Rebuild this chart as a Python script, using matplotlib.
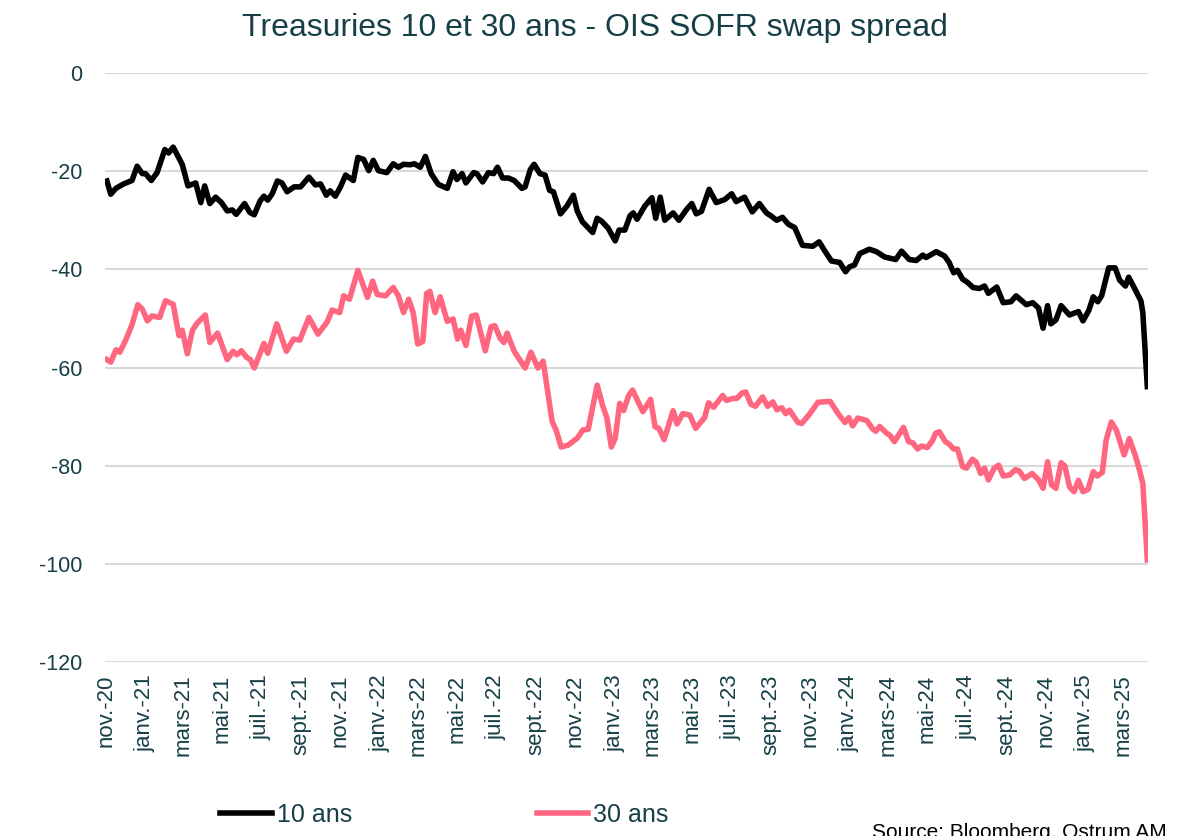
import matplotlib
matplotlib.use("Agg")
import matplotlib.pyplot as plt
import pandas as pd

# data: days since 1 Nov 2020 and spread in bp
days_10 = [2, 8, 16, 28, 41, 49, 57, 62, 71, 80, 92, 98, 105, 119, 128, 140, 148, 154, 162, 171,
           180, 189, 197, 203, 216, 224, 231, 240, 246, 252, 259, 267, 274, 282, 293, 303, 316, 326,
           334, 343, 349, 357, 365, 373, 385, 392, 401, 409,
           416, 424, 437, 447, 455, 463, 473, 480, 489, 497, 506, 517, 531, 540, 546, 554, 560, 572,
           577, 586, 595, 603, 609, 617, 626, 635, 647, 652, 660, 666, 675, 683, 690, 696, 707, 717,
           727, 733, 741, 757, 764, 771, 781, 792, 798, 807, 815,
           820, 826, 838, 849, 855, 862, 869, 882, 891, 903, 911, 918, 926, 938, 949, 962, 973, 980,
           993, 1005, 1016, 1027, 1035, 1043, 1052, 1061, 1071, 1083, 1099, 1109, 1117, 1128, 1141,
           1150, 1156, 1164, 1172, 1187, 1198, 1211,
           1228, 1237, 1249, 1260, 1270, 1275, 1291, 1304, 1311, 1318, 1324, 1332, 1340, 1348, 1358,
           1366, 1372, 1385, 1395, 1407, 1415, 1431, 1441, 1450, 1457, 1464, 1469, 1477, 1485, 1498,
           1512, 1519, 1528, 1535, 1542, 1548, 1559, 1569, 1576, 1585, 1590, 1600, 1609, 1612, 1619]
spread_10 = [-22.0, -24.7, -23.5, -22.6, -21.9, -19.0, -20.5, -20.5, -21.9, -20.3, -15.6, -16.3, -15.1,
             -18.6, -23.0, -22.4, -26.4, -23.0, -26.6, -25.3, -26.4, -28.1, -27.9, -28.8, -26.6, -28.4,
             -28.9, -26.1, -25.1, -25.9, -24.6, -22.0, -22.4, -24.2, -23.2, -23.2, -21.2, -22.8, -22.6,
             -24.9, -24.0, -25.1, -23.2, -20.8, -21.9, -17.2, -17.6, -19.9,
             -17.8, -19.9, -20.3, -18.5, -19.2, -18.6, -18.7, -18.5, -19.2, -17.0, -20.5, -22.7, -23.5,
             -20.1, -21.7, -20.5, -22.4, -20.3, -20.5, -22.2, -20.3, -20.5, -19.2, -21.4, -21.4, -21.9,
             -23.5, -23.2, -19.7, -18.6, -20.5, -20.8, -23.9, -24.2, -28.7, -27.1, -24.9, -28.1, -30.3,
             -32.5, -29.6, -30.2, -31.6, -34.2, -32.0, -32.0, -29.1,
             -28.5, -29.8, -27.1, -25.4, -29.6, -25.3, -30.0, -28.5, -30.0, -27.8, -26.6, -28.7, -28.2,
             -23.7, -26.4, -25.8, -24.6, -26.2, -25.3, -28.3, -26.6, -28.5, -29.2, -30.0, -29.4, -30.8,
             -31.5, -35.1, -35.3, -34.4, -36.1, -38.3, -38.6, -40.5, -39.5, -39.1, -36.8, -35.9, -36.4,
             -37.5,
             -38.0, -36.3, -38.0, -38.2, -37.1, -37.6, -36.4, -37.3, -38.6, -40.7, -40.2, -42.0, -42.7,
             -43.7, -43.9, -43.4, -44.9, -43.6, -46.8, -46.6, -45.4, -47.2, -46.8, -47.9, -52.0, -47.4,
             -51.1, -50.3, -47.4, -49.3, -48.6, -50.5, -48.4, -45.6, -46.6, -45.4, -39.7, -39.7, -42.2,
             -43.4, -41.6, -44.1, -46.4, -48.8, -63.9]

days_30 = [2, 8, 16, 22, 31, 41, 50, 57, 65, 72, 84, 93, 105, 114, 119, 127, 135, 142, 155, 162, 174,
           189, 198, 204, 211, 219, 225, 231, 246, 252, 266, 281, 292, 302, 316, 330, 344, 352, 364,
           370, 379, 392,
           407, 415, 422, 435, 447, 455, 463, 471, 478, 485, 493, 499, 504, 512, 520, 531, 540, 547,
           552, 560, 569, 576, 590, 599, 605, 613, 619, 624, 635, 652, 661, 672, 680,
           694, 700, 708, 719, 733, 742, 750, 764, 773, 779, 786, 792, 799, 805, 813, 819, 835, 847,
           854, 860, 868, 882, 888, 897, 908, 917, 931, 937, 945, 959, 965, 975, 981, 989, 995, 1003,
           1010, 1021, 1029, 1037, 1043, 1051, 1057, 1063, 1076,
           1082, 1094, 1107, 1126, 1139, 1149, 1155, 1161, 1169, 1183, 1192, 1197,
           1203, 1214, 1219, 1226, 1240, 1248, 1254, 1262, 1268, 1277, 1285, 1290, 1296, 1305, 1311,
           1318, 1324, 1332, 1338, 1347, 1353, 1360, 1366, 1372, 1381, 1388, 1395, 1405, 1414, 1420,
           1428, 1440, 1450, 1457, 1464, 1470, 1477, 1485, 1491, 1498, 1505, 1512, 1519, 1527, 1535,
           1541, 1549, 1555, 1563, 1571, 1583, 1591, 1600, 1606, 1612, 1619]
spread_30 = [-58.4, -58.9, -56.4, -56.9, -54.5, -51.3, -47.2, -48.1, -50.5, -49.5, -49.8, -46.4, -47.1,
             -53.5, -52.4, -57.2, -52.4, -51.0, -49.3, -54.9, -53.0, -58.4, -56.7, -57.4, -56.6, -57.9,
             -58.4, -60.1, -55.1, -57.1, -51.1, -56.7, -54.2, -54.4, -49.8, -53.2, -50.8, -48.3, -48.8,
             -45.4, -46.1, -40.2,
             -45.7, -42.4, -45.1, -45.4, -43.7, -45.4, -48.8, -46.1, -48.8, -55.2, -54.7, -44.9, -44.5,
             -48.8, -45.6, -50.6, -50.1, -54.2, -52.4, -55.5, -49.5, -49.3, -56.6, -51.7, -51.5, -54.0,
             -54.9, -53.0, -56.7, -60.1, -56.9, -60.1, -58.7,
             -71.0, -72.7, -76.2, -75.8, -74.4, -72.7, -72.6, -63.6, -68.0, -70.2, -76.2, -74.4, -67.3,
             -68.8, -65.7, -64.6, -69.0, -66.5, -72.1, -72.4, -74.7, -68.8, -71.5, -69.4, -69.7, -72.4,
             -70.2, -67.2, -68.1, -65.7, -66.7, -66.3, -66.3, -65.2, -65.0, -67.5, -67.9, -66.0, -67.9,
             -67.0, -68.6, -68.2, -69.4, -68.7, -71.2,
             -71.4, -69.5, -67.1, -66.9, -69.5, -71.2, -70.2, -71.9, -70.3, -70.8, -72.5, -73.0,
             -72.0, -73.4, -73.8, -75.1, -72.2, -75.1, -75.3, -76.6, -76.0, -76.3, -74.9, -73.4, -73.1,
             -75.1, -75.6, -76.6, -76.6, -80.2, -80.5, -78.7, -79.3, -81.6, -80.5, -82.9, -80.5, -79.9,
             -82.1, -81.9, -80.8, -81.1, -82.6, -81.6, -82.9, -84.6, -79.2, -83.9, -84.6, -79.4, -80.1,
             -84.3, -85.3, -83.0, -85.3, -84.8, -81.2, -82.1, -81.4, -74.8, -71.1, -72.8, -77.8, -74.5,
             -77.8, -80.5, -83.6, -99.2]

tick_dates = ['2020-11-01', '2021-01-01', '2021-03-01', '2021-05-01', '2021-07-01', '2021-09-01',
              '2021-11-01', '2022-01-01', '2022-03-01', '2022-05-01', '2022-07-01', '2022-09-01',
              '2022-11-01', '2023-01-01', '2023-03-01', '2023-05-01', '2023-07-01', '2023-09-01',
              '2023-11-01', '2024-01-01', '2024-03-01', '2024-05-01', '2024-07-01', '2024-09-01',
              '2024-11-01', '2025-01-01', '2025-03-01']
tick_labels = ['nov.-20', 'janv.-21', 'mars-21', 'mai-21', 'juil.-21', 'sept.-21', 'nov.-21',
               'janv.-22', 'mars-22', 'mai-22', 'juil.-22', 'sept.-22', 'nov.-22', 'janv.-23',
               'mars-23', 'mai-23', 'juil.-23', 'sept.-23', 'nov.-23', 'janv.-24', 'mars-24',
               'mai-24', 'juil.-24', 'sept.-24', 'nov.-24', 'janv.-25', 'mars-25']
y_ticks = [0, -20, -40, -60, -80, -100, -120]

start = pd.Timestamp('2020-11-01')
dates_10 = start + pd.to_timedelta(days_10, unit='D')
dates_30 = start + pd.to_timedelta(days_30, unit='D')

plt.rcParams['font.family'] = ['Liberation Sans', 'DejaVu Sans']
plt.rcParams['axes.unicode_minus'] = False
text_col = '#173f47'

fig = plt.figure(figsize=(11.78, 8.36), dpi=100)
ax = fig.add_axes([0.0891, 0.2081, 0.8854, 0.7046])

ax.plot(dates_10, spread_10, color='black', lw=4, label='10 ans', solid_joinstyle='round')
ax.plot(dates_30, spread_30, color='#ff667f', lw=4, label='30 ans', solid_joinstyle='round')

ax.set_ylim(-120, 0)
ax.set_yticks(y_ticks)
ax.set_xlim(pd.Timestamp('2020-10-31'), pd.Timestamp('2025-04-09'))
ax.set_xticks(pd.to_datetime(tick_dates))
ax.set_xticklabels(tick_labels, rotation=90)

ax.grid(axis='y', color='#d9d9d9', lw=1.5)
ax.set_axisbelow(True)
for s in ax.spines.values():
    s.set_visible(False)
ax.tick_params(axis='both', length=0, colors=text_col)
ax.tick_params(axis='y', pad=16, labelsize=15.5)
ax.tick_params(axis='x', pad=9, labelsize=16)

fig.suptitle('Treasuries 10 et 30 ans - OIS SOFR swap spread', x=0.505, y=0.985,
             fontsize=23, color=text_col)

leg = fig.legend(loc='center left', bbox_to_anchor=(0.168, 0.025), ncol=2, frameon=False,
                 fontsize=18, handlelength=2.05, handletextpad=0.2, columnspacing=7.4)
for t in leg.get_texts():
    t.set_color(text_col)

fig.text(0.740, 0.016, 'Source: Bloomberg, Ostrum AM', fontsize=15, color='black', va='top')

fig.savefig('out.png', dpi=100)
